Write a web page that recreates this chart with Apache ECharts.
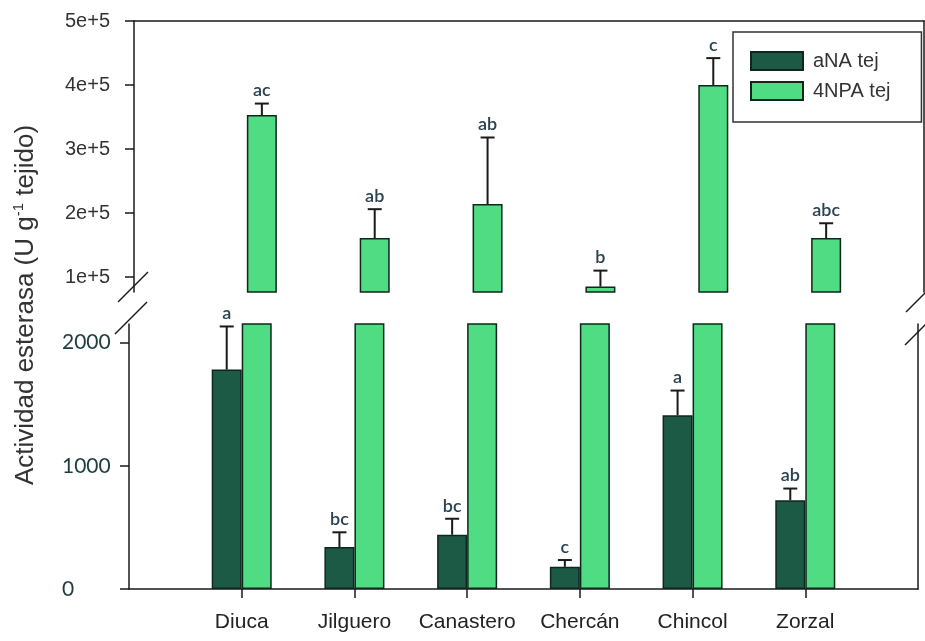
<!DOCTYPE html>
<html>
<head>
<meta charset="utf-8">
<script src="https://cdn.jsdelivr.net/npm/echarts@6/dist/echarts.min.js"></script>
<style>
  html, body { margin: 0; padding: 0; background: #ffffff; }
  #chart { width: 925px; height: 641px; }
</style>
</head>
<body>
<div id="chart"></div>
<script>
// Esterase activity per bird species, two substrates, mean + SE with group letters
const categories = ['Diuca', 'Jilguero', 'Canastero', 'Chercán', 'Chincol', 'Zorzal'];

const anaMean = [1780, 340, 440, 180, 1410, 720];
const anaErr = [350, 120, 130, 55, 200, 95];
const anaGroups = ['a', 'bc', 'bc', 'c', 'a', 'ab'];

const npaMean = [353000, 161000, 214000, 85000, 400000, 161000];
const npaErr = [18000, 45000, 104000, 25000, 42000, 23000];
const npaGroups = ['ac', 'ab', 'ab', 'b', 'c', 'abc'];

const upperTicks = [100000, 200000, 300000, 400000, 500000];
const lowerTicks = [0, 1000, 2000];

const DARK = '#1c5a46';
const LIGHT = '#50dc82';
const EDGE = '#0f261c';
const LINE = '#1a1a1a';
const BAR_W = 30;

const positions = categories.map((c, i) => i);

function barData(values) {
  return positions.map(i => [i, values == null ? '-' : values[i]]);
}
function errData(means, errs) {
  return positions.map(i => [i, means[i], means[i] + errs[i]]);
}

function errorItem(offset, groups) {
  return function (params, api) {
    const i = params.dataIndex;
    const base = api.coord([api.value(0), api.value(1)]);
    const top = api.coord([api.value(0), api.value(2)]);
    const x = base[0] + offset;
    return {
      type: 'group',
      children: [
        { type: 'line', shape: { x1: x, y1: base[1], x2: x, y2: top[1] },
          style: { stroke: LINE, lineWidth: 2 } },
        { type: 'line', shape: { x1: x - 7, y1: top[1], x2: x + 7, y2: top[1] },
          style: { stroke: LINE, lineWidth: 2 } },
        { type: 'text', x: x, y: top[1] - 4,
          style: { text: groups[i], textAlign: 'center', textVerticalAlign: 'bottom',
                   font: '600 18px Lato', fill: '#2a4252' } }
      ]
    };
  };
}

const frameLine = { show: true, onZero: false, lineStyle: { color: LINE, width: 1.5 } };

const xBase = {
  type: 'value', min: -1, max: 6,
  splitLine: { show: false }
};

const option = {
  animation: false,
  backgroundColor: '#ffffff',
  grid: [
    { left: 134, top: 21, width: 790, height: 271 },
    { left: 129, top: 324, width: 789, height: 265 }
  ],
  legend: {
    data: ['aNA tej', '4NPA tej'],
    orient: 'vertical',
    left: 733, top: 32,
    icon: 'rect',
    itemWidth: 52, itemHeight: 18, itemGap: 10,
    padding: [19, 31, 21, 17],
    borderColor: '#333', borderWidth: 1.5,
    textStyle: { fontFamily: 'Liberation Sans', fontSize: 20, color: '#333', padding: [0, 0, 0, 5] }
  },
  xAxis: [
    Object.assign({}, xBase, {
      gridIndex: 0, position: 'top',
      axisLine: frameLine, axisTick: { show: false }, axisLabel: { show: false }
    }),
    Object.assign({}, xBase, {
      gridIndex: 1, position: 'bottom',
      axisLine: frameLine,
      axisTick: { show: true, inside: false, length: 9, customValues: positions,
                  lineStyle: { color: LINE, width: 1.5 } },
      axisLabel: { show: true, customValues: positions, margin: 23,
                   formatter: v => categories[Math.round(v)],
                   fontFamily: 'Liberation Sans', fontSize: 21, color: '#222' }
    })
  ],
  yAxis: [
    {
      type: 'value', gridIndex: 0, position: 'left', min: 76600, max: 500000,
      splitLine: { show: false },
      axisLine: frameLine,
      axisTick: { show: true, length: 9, customValues: upperTicks, lineStyle: { color: LINE, width: 1.5 } },
      axisLabel: { show: true, customValues: upperTicks, align: 'left', margin: 69,
                   formatter: v => (v / 100000) + 'e+5',
                   fontFamily: 'Liberation Sans', fontSize: 20, color: '#333' }
    },
    {
      type: 'value', gridIndex: 0, position: 'right', min: 76600, max: 500000,
      splitLine: { show: false }, axisLine: frameLine,
      axisTick: { show: false }, axisLabel: { show: false }
    },
    {
      type: 'value', gridIndex: 1, position: 'left', min: 0, max: 2150,
      splitLine: { show: false },
      axisLine: frameLine,
      axisTick: { show: true, length: 9, customValues: lowerTicks, lineStyle: { color: LINE, width: 1.5 } },
      axisLabel: { show: true, customValues: lowerTicks, align: 'left', margin: 67,
                   formatter: v => String(v),
                   fontFamily: 'Lato', fontSize: 21, color: '#1f3d3f' }
    },
    {
      type: 'value', gridIndex: 1, position: 'right', min: 0, max: 2150,
      splitLine: { show: false }, axisLine: frameLine,
      axisTick: { show: false }, axisLabel: { show: false }
    }
  ],
  series: [
    // upper panel: only the 4NPA bars reach this range; aNA keeps its slot empty
    { type: 'bar', name: 'aNA tej', xAxisIndex: 0, yAxisIndex: 0, data: barData(null),
      barWidth: BAR_W, barGap: '0%',
      itemStyle: { color: DARK, borderColor: EDGE, borderWidth: 1.5 } },
    { type: 'bar', name: '4NPA tej', xAxisIndex: 0, yAxisIndex: 0, data: barData(npaMean),
      barWidth: BAR_W, barGap: '0%',
      itemStyle: { color: LIGHT, borderColor: EDGE, borderWidth: 1.5 } },
    // lower panel
    { type: 'bar', name: 'aNA tej', xAxisIndex: 1, yAxisIndex: 2, data: barData(anaMean),
      barWidth: BAR_W, barGap: '0%',
      itemStyle: { color: DARK, borderColor: EDGE, borderWidth: 1.5 } },
    { type: 'bar', name: '4NPA tej', xAxisIndex: 1, yAxisIndex: 2, data: barData(npaMean),
      barWidth: BAR_W, barGap: '0%',
      itemStyle: { color: LIGHT, borderColor: EDGE, borderWidth: 1.5 } },
    // error bars and group letters
    { type: 'custom', name: '4NPA err', xAxisIndex: 0, yAxisIndex: 0,
      data: errData(npaMean, npaErr), encode: { x: 0, y: 1 },
      renderItem: errorItem(BAR_W / 2, npaGroups), z: 5 },
    { type: 'custom', name: 'aNA err', xAxisIndex: 1, yAxisIndex: 2,
      data: errData(anaMean, anaErr), encode: { x: 0, y: 1 },
      renderItem: errorItem(-BAR_W / 2, anaGroups), z: 5 }
  ],
  graphic: [
    { type: 'text', x: 26, y: 305, rotation: Math.PI / 2,
      style: {
        text: '{t|Actividad esterasa (U g}{s|-1}{t| tejido)}',
        rich: {
          t: { fontFamily: 'Liberation Sans', fontSize: 26, fill: '#333', lineHeight: 29 },
          s: { fontFamily: 'Liberation Sans', fontSize: 15, fill: '#333', verticalAlign: 'top', lineHeight: 29 }
        },
        textAlign: 'center', textVerticalAlign: 'middle'
      } },
    // axis break marks
    { type: 'line', shape: { x1: 118, y1: 302, x2: 148, y2: 272 }, style: { stroke: LINE, lineWidth: 1.5 } },
    { type: 'line', shape: { x1: 115, y1: 334, x2: 147, y2: 302 }, style: { stroke: LINE, lineWidth: 1.5 } },
    { type: 'line', shape: { x1: 906, y1: 312, x2: 936, y2: 282 }, style: { stroke: LINE, lineWidth: 1.5 } },
    { type: 'line', shape: { x1: 905, y1: 345, x2: 935, y2: 315 }, style: { stroke: LINE, lineWidth: 1.5 } }
  ]
};

const chart = echarts.init(document.getElementById('chart'), null, { renderer: 'canvas' });
chart.setOption(option);
</script>
</body>
</html>
